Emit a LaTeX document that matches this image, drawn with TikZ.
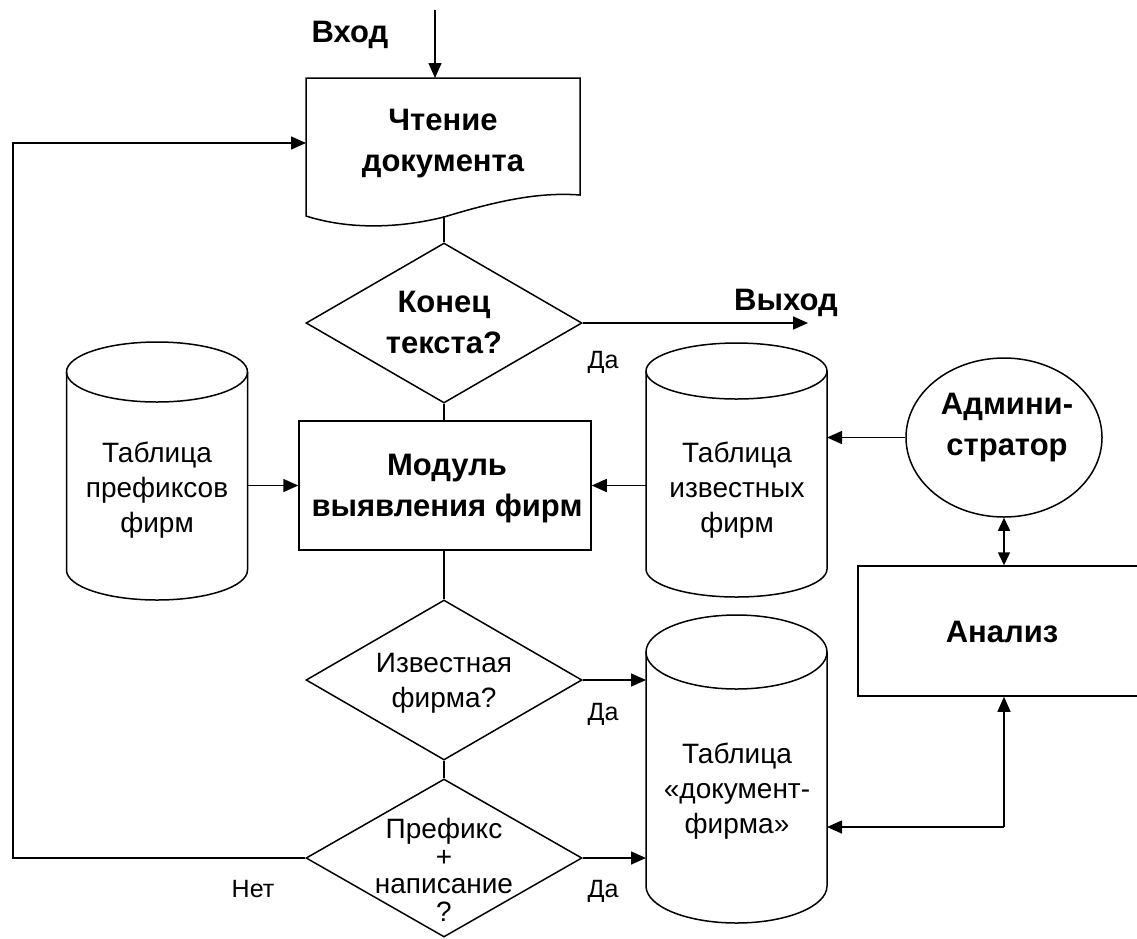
\documentclass[tikz,border=0pt]{standalone}
\usepackage{fontspec}
\setmainfont{Liberation Sans}
\usetikzlibrary{shapes.geometric,arrows.meta}
\newcommand{\mycyl}[5]{%
 \draw[lineSty] ({#1},{#2+#5}) ellipse [x radius=#4pt, y radius=#5pt];
 \draw[lineSty] ({#1-#4},{#2+#5}) -- ({#1-#4},{#3-#5})
   .. controls ({#1-#4},{#3-#5+0.5523*#5}) and ({#1-0.5523*#4},{#3}) .. ({#1},{#3})
   .. controls ({#1+0.5523*#4},{#3}) and ({#1+#4},{#3-#5+0.5523*#5}) .. ({#1+#4},{#3-#5})
   -- ({#1+#4},{#2+#5});
}
\begin{document}
\begin{tikzpicture}[x=1pt,y=-1pt,
  lineSty/.style={line width=1.5pt, black},
  arrSty/.style={lineSty, -{Triangle[length=15pt,width=13pt]}},
  dblSty/.style={lineSty, {Triangle[length=13pt,width=12pt]}-{Triangle[length=13pt,width=12pt]}},
  boldText/.style={font=\fontsize{31}{41}\selectfont\bfseries, align=center, inner sep=0pt},
  regText/.style={font=\fontsize{28}{35}\selectfont, align=center, inner sep=0pt},
  smallText/.style={font=\fontsize{25}{30}\selectfont, inner sep=0pt, anchor=base},
  diaSty/.style={diamond, draw, lineSty, minimum width=276pt, minimum height=160pt, inner sep=0pt},
  boxSty/.style={rectangle, draw, lineSty, inner sep=0pt},
  holder/.style={rectangle, draw=none, inner sep=0pt, outer sep=0pt}]
\useasboundingbox (0,0) rectangle (1137,938);
\fill[white] (0,0) rectangle (1137,938);

% document shape
\node[holder, minimum width=274pt, minimum height=138pt] (doc) at (443,147) {};
\draw[lineSty] (306,78) -- (580,78) -- (580,195)
  .. controls (540,192) and (500,200) .. (444,217)
  .. controls (400,228) and (350,230) .. (306,216) -- cycle;
\node[boldText] (doctxt) at (443,144) {Чтение\\документа};

% diamonds
\node[diaSty] (d1) at (444,323) {};
\node[boldText] (d1t) at (444,322) {Конец\\текста?};
\node[diaSty] (d2) at (444,680) {};
\node[regText] (d2t) at (444,683) {Известная\\фирма?};
\node[diaSty, minimum height=158pt] (d3) at (444,858) {};
\node[regText, font=\fontsize{28}{27.5}\selectfont] (d3t) at (444,870) {Префикс\\+\\написание\\?};

% module box
\node[boxSty, minimum width=292pt, minimum height=129pt] (mod) at (445,485.5) {};
\node[boldText] (modt) at (447,489) {Модуль\\выявления фирм};

% cylinders
\mycyl{157}{342}{600}{90.5}{30}
\node[holder, minimum width=181pt, minimum height=258pt] (cyl1) at (157,471) {};
\node[regText] (cyl1t) at (157,490) {Таблица\\префиксов\\фирм};

\mycyl{736.5}{343}{597}{90.5}{28}
\node[holder, minimum width=181pt, minimum height=254pt] (cyl2) at (736.5,470) {};
\node[regText] (cyl2t) at (737,490) {Таблица\\известных\\фирм};

\mycyl{736.5}{615}{923}{90.5}{37}
\node[holder, minimum width=181pt, minimum height=308pt] (cyl3) at (736.5,769) {};
\node[regText] (cyl3t) at (737,791) {Таблица\\«документ-\\фирма»};

% administrator
\node[ellipse, draw, lineSty, minimum width=196pt, minimum height=159pt, inner sep=0pt] (adm) at (1004,437.5) {};
\node[boldText] (admt) at (1007,428) {Админи-\\стратор};

% analysis
\node[boxSty, minimum width=292pt, minimum height=130pt] (an) at (1004,631) {};
\node[boldText] (ant) at (1002,632) {Анализ};

% labels
\node[boldText, anchor=base] (vhod) at (350,42) {Вход};
\node[boldText, anchor=base] (vyhod) at (786,310) {Выход};
\node[smallText] (da1) at (603,368) {Да};
\node[smallText] (da2) at (603,720) {Да};
\node[smallText] (da3) at (603,897) {Да};
\node[smallText] (net) at (253,897) {Нет};

% coordinates
\coordinate (inp) at (435,10);
\coordinate (outp) at (808,323);
\coordinate (fb1) at (13,858);
\coordinate (fb2) at (13,143);
\coordinate (jn) at (1004,827);

% connectors
\draw[arrSty] (inp) -- (inp |- doc.north);
\draw[lineSty] (d1.north |- doc.south) -- (d1.north);
\draw[arrSty] (d1.east) -- (outp);
\draw[lineSty] (d1.south) -- (d1.south |- mod.north);
\draw[lineSty] (d2.north |- mod.south) -- (d2.north);
\draw[lineSty] (d2.south) -- (d3.north);
\draw[arrSty] (mod.west -| cyl1.east) -- (mod.west);
\draw[arrSty] (mod.east -| cyl2.west) -- (mod.east);
\draw[arrSty] (adm.west) -- (adm.west -| cyl2.east);
\draw[dblSty] (adm.south) -- (adm.south |- an.north);
\draw[arrSty] (d2.east) -- (d2.east -| cyl3.west);
\draw[arrSty] (d3.east) -- (d3.east -| cyl3.west);
\draw[arrSty] (jn) -- (jn -| cyl3.east);
\draw[arrSty] (jn) -- (jn |- an.south);
\draw[arrSty] (d3.west) -- (fb1) -- (fb2) -- (fb2 -| doc.west);
\end{tikzpicture}
\end{document}
